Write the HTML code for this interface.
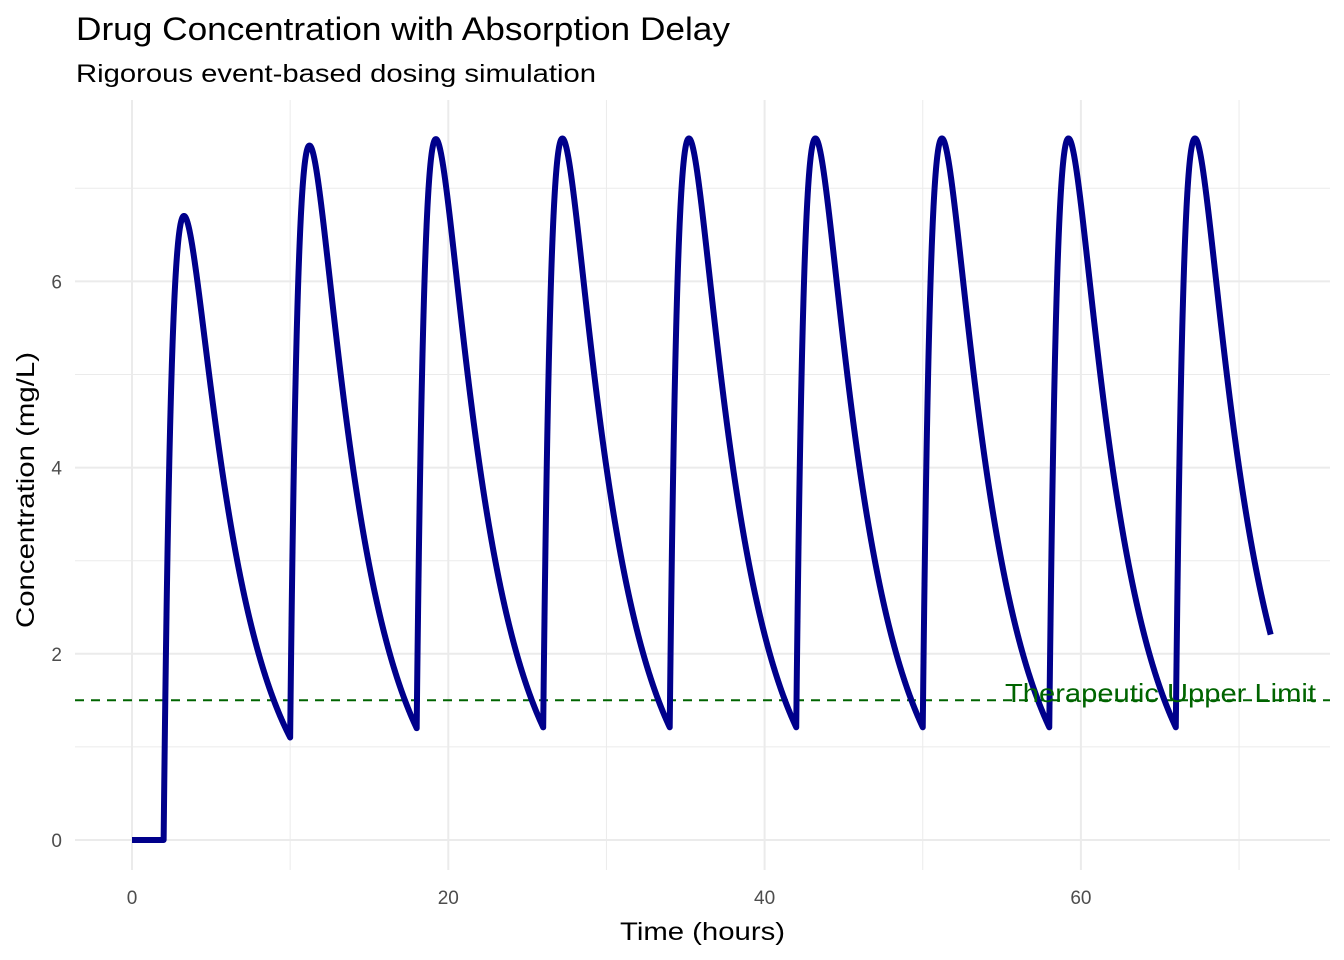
<!DOCTYPE html>
<html><head><meta charset="utf-8"><style>
html,body{margin:0;padding:0;background:#fff}
svg{display:block;font-family:"Liberation Sans",Arial,sans-serif}
</style></head><body>
<svg id="s" width="1344" height="960" xmlns="http://www.w3.org/2000/svg">
<rect width="1344" height="960" fill="#fff"/>
<g id="grid"></g>
<line x1="75" x2="1330" y1="700.3" y2="700.3" stroke="#006400" stroke-width="2" stroke-dasharray="9,7"/>
<path id="curve" fill="none" stroke="#00008B" stroke-width="6" stroke-linejoin="round"/>
<text x="1005" y="702" font-size="26" fill="#006400" textLength="311" lengthAdjust="spacingAndGlyphs">Therapeutic Upper Limit</text>
<text x="76" y="40" font-size="32" fill="#000" textLength="654" lengthAdjust="spacingAndGlyphs">Drug Concentration with Absorption Delay</text>
<text x="76" y="82" font-size="25" fill="#000" textLength="520" lengthAdjust="spacingAndGlyphs">Rigorous event-based dosing simulation</text>
<text x="620" y="940" font-size="25" fill="#000" textLength="165" lengthAdjust="spacingAndGlyphs">Time (hours)</text>
<text transform="translate(34,628) rotate(-90)" font-size="25" fill="#000" textLength="276" lengthAdjust="spacingAndGlyphs">Concentration (mg/L)</text>
<g id="ticks" font-size="19" fill="#4d4d4d"></g>
</svg>
<script>
const X=t=>132+t*15.815, Y=c=>840-c*93.1;
let g='';
for(let t=0;t<=70;t+=10){const w=t%20?1:2;g+=`<line x1="${X(t)}" x2="${X(t)}" y1="100" y2="870" stroke="#ebebeb" stroke-width="${w}"/>`;}
for(let c=0;c<=7;c++){const w=c%2?1:2;g+=`<line x1="75" x2="1330" y1="${Y(c)}" y2="${Y(c)}" stroke="#ebebeb" stroke-width="${w}"/>`;}
document.getElementById('grid').innerHTML=g;
let tk='';
for(let t=0;t<=60;t+=20)tk+=`<text x="${X(t)}" y="904" text-anchor="middle">${t}</text>`;
for(let c=0;c<=6;c+=2)tk+=`<text x="62" y="${Y(c)+7}" text-anchor="end">${c}</text>`;
document.getElementById('ticks').innerHTML=tk;
const ka=1.6,ke=0.3,A=12.14;
function C(t){let s=0;for(let d=2;d<=66;d+=8){if(t>d){const u=t-d;s+=A*(Math.exp(-ke*u)-Math.exp(-ka*u));}}return s;}
let p='';
for(let i=0;i<=7200;i++){const t=i*0.01;p+=(i?'L':'M')+X(t).toFixed(2)+','+Y(C(t)).toFixed(2);}
document.getElementById('curve').setAttribute('d',p);
</script>
</body></html>
